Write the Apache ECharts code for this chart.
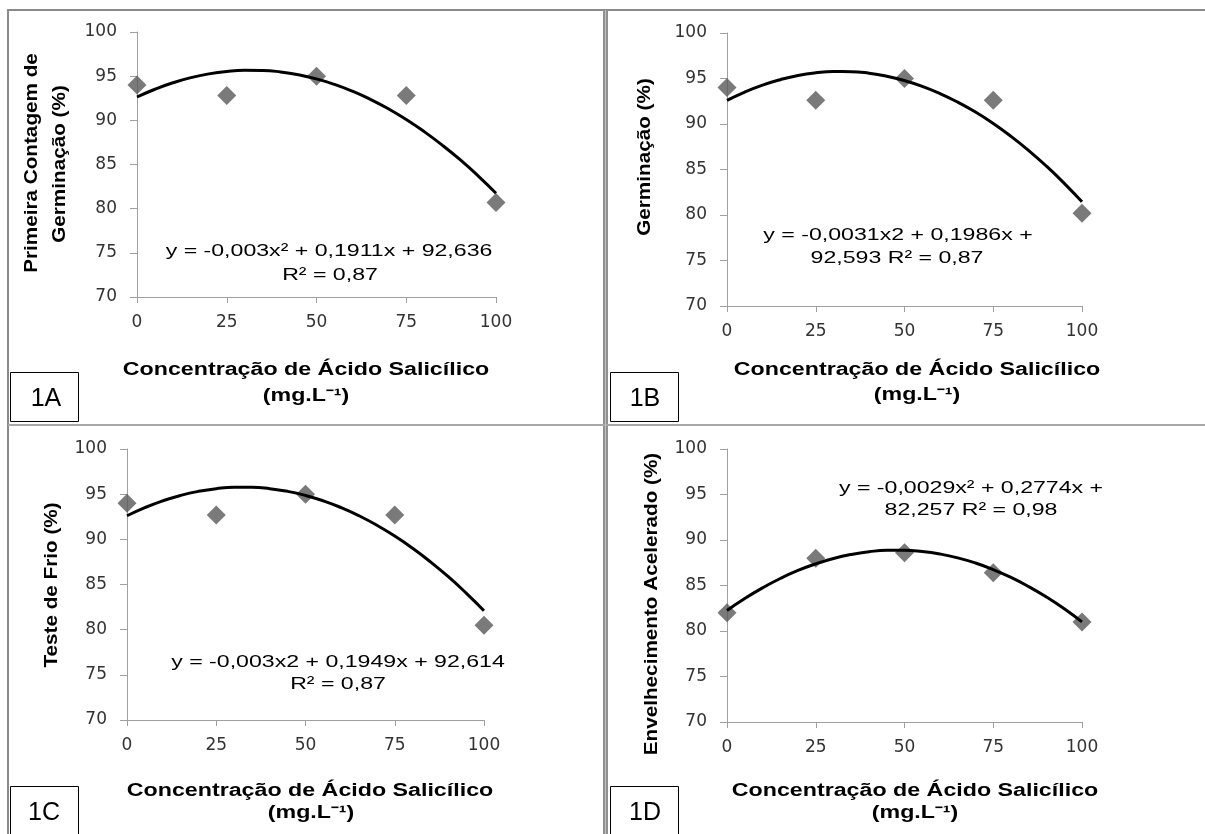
<!DOCTYPE html>
<html>
<head>
<meta charset="utf-8">
<script src="https://cdn.jsdelivr.net/npm/echarts@6/dist/echarts.min.js"></script>
<style>html,body{margin:0;padding:0;background:#fff}#c{width:1205px;height:834px}</style>
</head>
<body>
<div id="c"></div>
<script>
// Concentration levels (mg.L-1)
const doses = [0, 25, 50, 75, 100];
const xTicks = [0, 25, 50, 75, 100];
const yTicks = [70, 75, 80, 85, 90, 95, 100];

// Observed values (diamonds)
const obsA = [94.0, 92.8, 95.0, 92.8, 80.7];   // Primeira Contagem de Germinação
const obsB = [94.0, 92.6, 95.0, 92.6, 80.2];   // Germinação
const obsC = [94.0, 92.7, 95.0, 92.7, 80.5];   // Teste de Frio
const obsD = [82.0, 88.0, 88.6, 86.4, 81.0];   // Envelhecimento Acelerado

// Trend-curve points
const trendX = [0, 5, 10, 15, 20, 25, 30, 35, 40, 45, 50, 55, 60, 65, 70, 75, 80, 85, 90, 95, 100];
const trendA = [92.64, 93.52, 94.25, 94.83, 95.26, 95.54, 95.67, 95.65, 95.48, 95.16, 94.69, 94.07, 93.30, 92.38, 91.31, 90.09, 88.72, 87.20, 85.54, 83.72, 81.75];
const trendB = [92.59, 93.51, 94.27, 94.87, 95.33, 95.62, 95.76, 95.75, 95.58, 95.25, 94.77, 94.14, 93.35, 92.40, 91.31, 90.05, 88.64, 87.08, 85.36, 83.48, 81.45];
const trendC = [92.61, 93.51, 94.26, 94.86, 95.31, 95.61, 95.76, 95.76, 95.61, 95.31, 94.86, 94.26, 93.51, 92.61, 91.56, 90.36, 89.01, 87.51, 85.86, 84.05, 82.10];
const trendD = [82.26, 83.57, 84.74, 85.77, 86.65, 87.38, 87.97, 88.41, 88.71, 88.87, 88.88, 88.74, 88.46, 88.04, 87.47, 86.75, 85.89, 84.88, 83.73, 82.44, 81.00];

// Texts
const yTitleA = ["Primeira Contagem de", "Germinação (%)"];
const yTitleB = ["Germinação (%)"];
const yTitleC = ["Teste de Frio (%)"];
const yTitleD = ["Envelhecimento Acelerado (%)"];
const xTitle = ["Concentração de Ácido Salicílico", "(mg.L⁻¹)"];
const eqA = ["y = -0,003x² + 0,1911x + 92,636", "R² = 0,87"];
const eqB = ["y = -0,0031x2 + 0,1986x +", "92,593 R² = 0,87"];
const eqC = ["y = -0,003x2 + 0,1949x + 92,614", "R² = 0,87"];
const eqD = ["y = -0,0029x² + 0,2774x +", "82,257 R² = 0,98"];
const panelLabels = ["1A", "1B", "1C", "1D"];

const obs = [obsA, obsB, obsC, obsD];
const trends = [trendA, trendB, trendC, trendD];

const grids = [
  {left: 137, top: 32, width: 359, height: 265},
  {left: 727, top: 33, width: 355, height: 273},
  {left: 127, top: 449, width: 357, height: 271},
  {left: 727, top: 449, width: 355, height: 273}
];

const axisColor = '#a0a0a0';
const xAxes = grids.map((g, i) => ({
  type: 'value', gridIndex: i, min: xTicks[0], max: xTicks[xTicks.length-1], interval: xTicks[1]-xTicks[0],
  axisLine: {show: true, lineStyle: {color: axisColor, width: 1}},
  axisTick: {show: true, length: 6, lineStyle: {color: axisColor}},
  splitLine: {show: false},
  axisLabel: {margin: 17, color: '#333', fontFamily: 'DejaVu Sans', fontSize: 17}
}));
const yAxes = grids.map((g, i) => ({
  type: 'value', gridIndex: i, min: yTicks[0], max: yTicks[yTicks.length-1], interval: yTicks[1]-yTicks[0],
  axisLine: {show: true, lineStyle: {color: axisColor, width: 1}},
  axisTick: {show: true, length: 7, lineStyle: {color: axisColor}},
  splitLine: {show: false},
  axisLabel: {margin: 20, color: '#333', fontFamily: 'DejaVu Sans', fontSize: 17}
}));

const series = [];
for (let i = 0; i < 4; i++) {
  series.push({
    type: 'line', xAxisIndex: i, yAxisIndex: i, smooth: true, symbol: 'none',
    lineStyle: {color: '#000', width: 3}, z: 3,
    data: trendX.map((x, k) => [x, trends[i][k]])
  });
  series.push({
    type: 'scatter', xAxisIndex: i, yAxisIndex: i, symbol: 'diamond', symbolSize: 19,
    itemStyle: {color: '#595959'}, z: 2,
    data: doses.map((x, k) => [x, obs[i][k]])
  });
}

function txt(text, x, y, opts) {
  return {
    type: 'text', x: x, y: y, z: 100,
    rotation: opts.rotation || 0, scaleX: opts.scaleX || 1,
    style: {
      text: text, fill: opts.fill || '#000',
      fontFamily: opts.family || 'Liberation Sans', fontSize: opts.size || 17,
      fontWeight: opts.weight || 'normal',
      textAlign: 'center', textVerticalAlign: 'middle', align: 'center', verticalAlign: 'middle'
    }
  };
}
const lineGray = '#8a8a8a';
const graphic = [
  // frame
  {type: 'line', z: 50, shape: {x1: 7, y1: 10, x2: 1205, y2: 10}, style: {stroke: lineGray, lineWidth: 2}},
  {type: 'line', z: 50, shape: {x1: 8, y1: 10, x2: 8, y2: 834}, style: {stroke: lineGray, lineWidth: 2}},
  {type: 'line', z: 50, shape: {x1: 605.5, y1: 10, x2: 605.5, y2: 834}, style: {stroke: '#909090', lineWidth: 5}},
  {type: 'line', z: 51, shape: {x1: 605.5, y1: 10, x2: 605.5, y2: 834}, style: {stroke: '#c0c0c0', lineWidth: 1}},
  {type: 'line', z: 50, shape: {x1: 8, y1: 425, x2: 1205, y2: 425}, style: {stroke: '#a8a8a8', lineWidth: 2}},
  // panel label boxes
  {type: 'rect', z: 60, shape: {x: 10.5, y: 372.5, width: 68, height: 49}, style: {fill: '#fff', stroke: '#000', lineWidth: 1}},
  {type: 'rect', z: 60, shape: {x: 610.5, y: 372.5, width: 68, height: 49}, style: {fill: '#fff', stroke: '#000', lineWidth: 1}},
  {type: 'rect', z: 60, shape: {x: 10.5, y: 786.5, width: 68, height: 60}, style: {fill: '#fff', stroke: '#000', lineWidth: 1}},
  {type: 'rect', z: 60, shape: {x: 610.5, y: 786.5, width: 68, height: 60}, style: {fill: '#fff', stroke: '#000', lineWidth: 1}},
  txt(panelLabels[0], 46, 399, {size: 25}),
  txt(panelLabels[1], 645, 399, {size: 25}),
  txt(panelLabels[2], 44, 813, {size: 25}),
  txt(panelLabels[3], 645, 813, {size: 25}),
  // y titles
  txt(yTitleA[0], 32, 163, {size: 18, weight: 'bold', rotation: Math.PI/2, scaleX: 1.15}),
  txt(yTitleA[1], 60, 164, {size: 18, weight: 'bold', rotation: Math.PI/2, scaleX: 1.15}),
  txt(yTitleB[0], 645, 157, {size: 18, weight: 'bold', rotation: Math.PI/2, scaleX: 1.15}),
  txt(yTitleC[0], 52, 585, {size: 18, weight: 'bold', rotation: Math.PI/2, scaleX: 1.15}),
  txt(yTitleD[0], 652, 604, {size: 18, weight: 'bold', rotation: Math.PI/2, scaleX: 1.15}),
  // x titles
  txt(xTitle[0], 306, 370, {size: 18, weight: 'bold', scaleX: 1.29}),
  txt(xTitle[1], 306, 396, {size: 18, weight: 'bold', scaleX: 1.29}),
  txt(xTitle[0], 917, 370, {size: 18, weight: 'bold', scaleX: 1.29}),
  txt(xTitle[1], 917, 395, {size: 18, weight: 'bold', scaleX: 1.29}),
  txt(xTitle[0], 310, 791, {size: 18, weight: 'bold', scaleX: 1.29}),
  txt(xTitle[1], 311, 813, {size: 18, weight: 'bold', scaleX: 1.29}),
  txt(xTitle[0], 915, 791, {size: 18, weight: 'bold', scaleX: 1.29}),
  txt(xTitle[1], 915, 813, {size: 18, weight: 'bold', scaleX: 1.29}),
  // equations
  txt(eqA[0], 329, 251, {size: 17, scaleX: 1.36}),
  txt(eqA[1], 330, 275, {size: 17, scaleX: 1.36}),
  txt(eqB[0], 898, 235, {size: 17, scaleX: 1.36}),
  txt(eqB[1], 897, 258, {size: 17, scaleX: 1.36}),
  txt(eqC[0], 338, 662, {size: 17, scaleX: 1.36}),
  txt(eqC[1], 338, 684, {size: 17, scaleX: 1.36}),
  txt(eqD[0], 971, 488, {size: 17, scaleX: 1.36}),
  txt(eqD[1], 971, 510, {size: 17, scaleX: 1.36})
];

const chart = echarts.init(document.getElementById('c'), null, {renderer: 'canvas'});
chart.setOption({
  animation: false,
  backgroundColor: '#fff',
  grid: grids.map(g => Object.assign({containLabel: false}, g)),
  xAxis: xAxes,
  yAxis: yAxes,
  series: series,
  graphic: graphic
});
</script>
</body>
</html>
